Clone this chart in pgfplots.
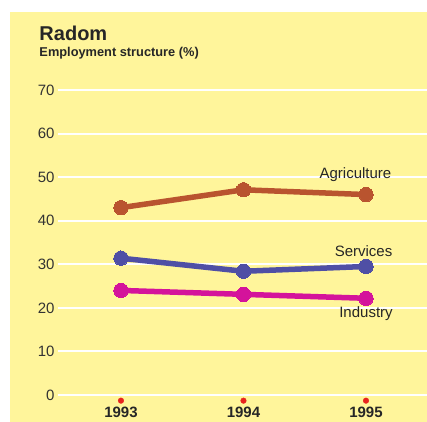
\documentclass[border=0pt]{standalone}
\usepackage{pgfplots}
\pgfplotsset{compat=1.18}
\usepackage{fontspec}
\setmainfont{Liberation Sans}
\definecolor{bgyellow}{HTML}{FFF59B}
\definecolor{agri}{HTML}{B9542F}
\definecolor{serv}{HTML}{4F4FA5}
\definecolor{indu}{HTML}{D4139B}
\definecolor{dotred}{HTML}{E8231E}
\begin{document}
\begin{tikzpicture}[x=1bp,y=1bp]
\path[use as bounding box] (0,0) rectangle (427,422);
\fill[bgyellow] (10,0) rectangle (427,410);
\node[anchor=base west, font=\bfseries\fontsize{20bp}{22bp}\selectfont, text=black!85, inner sep=0] at (39.3,381.3) {Radom};
\node[anchor=base west, font=\bfseries\fontsize{12.8bp}{14bp}\selectfont, text=black!85, inner sep=0] at (39.3,366) {Employment structure (\%)};
\begin{axis}[
  at={(58bp,0bp)}, anchor=south west,
  scale only axis, width=369bp, height=349.4bp,
  xmin=1992.486, xmax=1995.498,
  ymin=-6.197, ymax=74,
  clip=false,
  axis line style={draw=none},
  tick style={draw=none},
  ytick={0,10,20,30,40,50,60,70},
  xtick={1993,1994,1995},
  xticklabels={1993,1994,1995},
  ymajorgrids=true,
  major grid style={white, line width=2bp},
  /pgf/number format/assume math mode=true,
  yticklabel style={font=\fontsize{15bp}{17bp}\selectfont, text=black!80},
  xticklabel style={font=\bfseries\fontsize{15bp}{17bp}\selectfont, text=black!85, anchor=center, yshift=10bp},
]
\addplot[only marks, mark=*, mark size=2.8bp, dotred] coordinates {(1993,-1.3) (1994,-1.3) (1995,-1.3)};
\addplot[agri, line width=5.5bp, mark=*, mark size=7.2bp, mark options={fill=agri, draw=agri, line width=0}] coordinates {(1993,43.0) (1994,47.1) (1995,46.0)};
\addplot[serv, line width=5.5bp, mark=*, mark size=7.2bp, mark options={fill=serv, draw=serv, line width=0}] coordinates {(1993,31.4) (1994,28.4) (1995,29.5)};
\addplot[indu, line width=5.5bp, mark=*, mark size=7.2bp, mark options={fill=indu, draw=indu, line width=0}] coordinates {(1993,24.0) (1994,23.1) (1995,22.2)};
\node[anchor=base, font=\fontsize{15bp}{17bp}\selectfont, text=black!85, inner sep=0] at (axis cs:1994.914,49.7) {Agriculture};
\node[anchor=base, font=\fontsize{15bp}{17bp}\selectfont, text=black!85, inner sep=0] at (axis cs:1994.98,31.9) {Services};
\node[anchor=base, font=\fontsize{15bp}{17bp}\selectfont, text=black!85, inner sep=0] at (axis cs:1995.0,17.7) {Industry};
\end{axis}
\end{tikzpicture}
\end{document}
